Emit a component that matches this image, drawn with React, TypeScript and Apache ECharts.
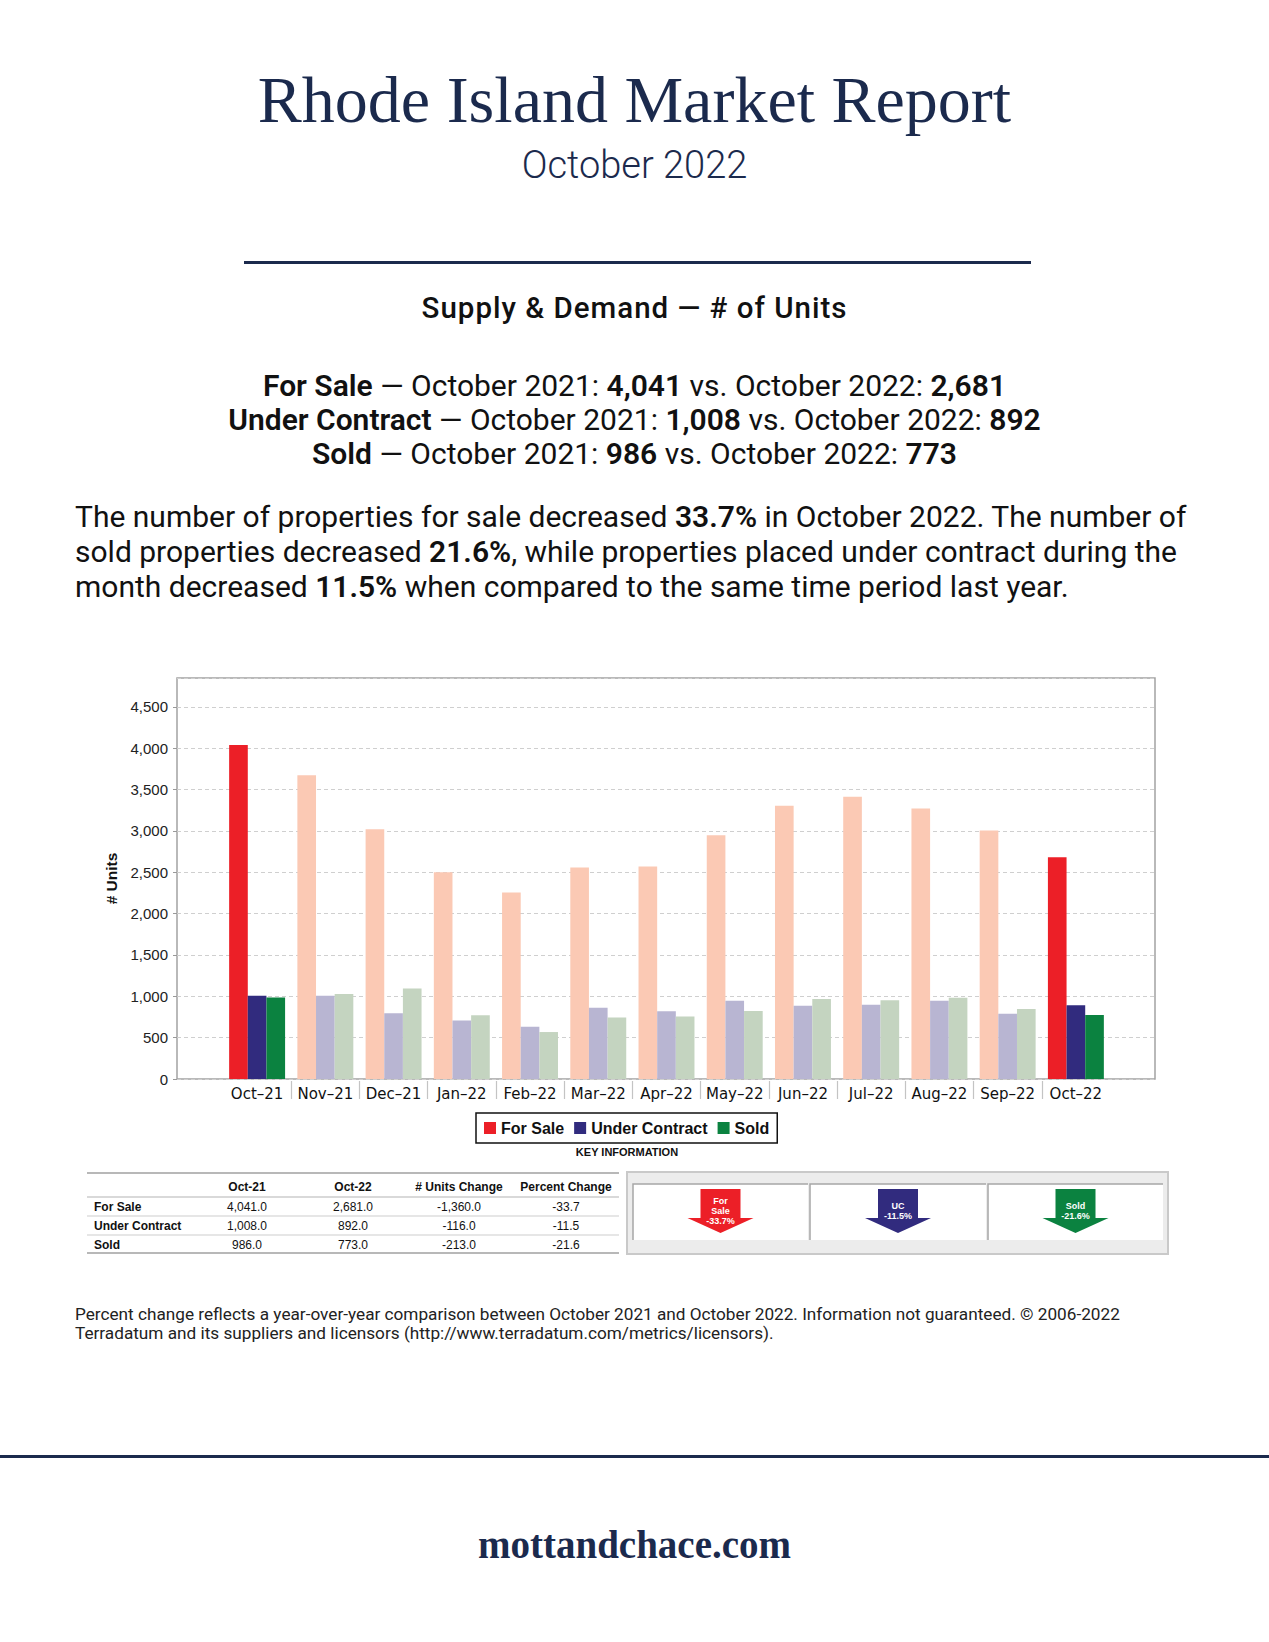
import React, { useEffect, useRef } from "react";
import * as echarts from "echarts";

const categories = ["Oct–21", "Nov–21", "Dec–21", "Jan–22", "Feb–22", "Mar–22", "Apr–22", "May–22", "Jun–22", "Jul–22", "Aug–22", "Sep–22", "Oct–22"];
const forSale = [4041, 3674, 3022, 2502, 2256, 2558, 2570, 2949, 3304, 3413, 3272, 3006, 2681];
const underContract = [1008, 1007, 794, 709, 633, 862, 818, 947, 886, 898, 947, 790, 892];
const sold = [986, 1027, 1096, 770, 568, 745, 757, 822, 967, 951, 983, 846, 773];

const seriesNames = ["For Sale", "Under Contract", "Sold"];
const seriesShort = ["For\nSale", "UC", "Sold"];
const brightColors = ["#ec1f27", "#312b7e", "#0b8240"];
const fadedColors = ["#fbc9b4", "#b8b5d2", "#c4d4c0"];
const tableHeaders = ["Oct-21", "Oct-22", "# Units Change", "Percent Change"];

const NAVY = "#1b2a4d";
const SANS = "Roboto, 'Liberation Sans', sans-serif";
const ARIAL = "'Liberation Sans', Arial, sans-serif";

const fmt = (n: number, d: number) =>
  n.toLocaleString("en-US", { minimumFractionDigits: d, maximumFractionDigits: d });

function buildGraphic() {
  const els: any[] = [];
  const allSeries = [forSale, underContract, sold];
  const last = categories.length - 1;

  els.push({
    type: "text",
    style: {
      text: "KEY INFORMATION", x: 627, y: 1152, fill: "#111",
      font: `bold 11px ${ARIAL}`, align: "center", verticalAlign: "middle",
      textAlign: "center", textVerticalAlign: "middle",
    },
  });

  const tLeft = 87, tRight = 619;
  const colX = [247, 353, 459, 566];
  const rowY = [1207, 1226, 1245];
  const lines = [
    { y: 1173, c: "#b8b8b8", w: 2 },
    { y: 1197, c: "#cccccc", w: 1.5 },
    { y: 1216, c: "#dedede", w: 1.5 },
    { y: 1235, c: "#dedede", w: 1.5 },
    { y: 1253, c: "#b8b8b8", w: 2 },
  ];
  lines.forEach((l) =>
    els.push({ type: "line", shape: { x1: tLeft, y1: l.y, x2: tRight, y2: l.y }, style: { stroke: l.c, lineWidth: l.w } })
  );
  tableHeaders.forEach((h, i) =>
    els.push({
      type: "text",
      style: { text: h, x: colX[i], y: 1187, fill: "#111", font: `bold 12px ${ARIAL}`, align: "center", verticalAlign: "middle", textAlign: "center", textVerticalAlign: "middle" },
    })
  );
  allSeries.forEach((arr, r) => {
    const a = arr[0], b = arr[last];
    const vals = [fmt(a, 1), fmt(b, 1), fmt(b - a, 1), fmt(((b - a) / a) * 100, 1)];
    els.push({
      type: "text",
      style: { text: seriesNames[r], x: 94, y: rowY[r], fill: "#111", font: `bold 12px ${ARIAL}`, align: "left", verticalAlign: "middle", textAlign: "left", textVerticalAlign: "middle" },
    });
    vals.forEach((v, i) =>
      els.push({
        type: "text",
        style: { text: v, x: colX[i], y: rowY[r], fill: "#111", font: `12px ${ARIAL}`, align: "center", verticalAlign: "middle", textAlign: "center", textVerticalAlign: "middle" },
      })
    );
  });

  els.push({ type: "rect", shape: { x: 627, y: 1172, width: 541, height: 82 }, style: { fill: "#ececec", stroke: "#c9c9c9", lineWidth: 2 } });
  const cells = [
    { x: 633, w: 175 },
    { x: 810, w: 176 },
    { x: 988, w: 175 },
  ];
  cells.forEach((c, i) => {
    els.push({ type: "rect", shape: { x: c.x, y: 1184, width: c.w, height: 56 }, style: { fill: "#ffffff" } });
    els.push({
      type: "polyline",
      shape: { points: [[c.x, 1240], [c.x, 1184], [c.x + c.w, 1184]] },
      style: { stroke: "#a6a6a6", lineWidth: 1.5, fill: null },
    });
    const cx = c.x + c.w / 2;
    els.push({
      type: "polygon",
      shape: {
        points: [
          [cx - 20, 1189], [cx + 20, 1189], [cx + 20, 1218], [cx + 33, 1218],
          [cx, 1233], [cx - 33, 1218], [cx - 20, 1218],
        ],
      },
      style: { fill: brightColors[i] },
    });
    const arr = allSeries[i];
    const pct = ((arr[last] - arr[0]) / arr[0]) * 100;
    els.push({
      type: "text",
      style: {
        text: `${seriesShort[i]}\n${fmt(pct, 1)}%`, x: cx, y: 1211, fill: "#ffffff",
        font: `bold 9px ${ARIAL}`, lineHeight: 10, align: "center", verticalAlign: "middle",
        textAlign: "center", textVerticalAlign: "middle",
      },
    });
  });
  return els;
}

function makeSeries(values: number[], idx: number) {
  const last = values.length - 1;
  return {
    name: seriesNames[idx],
    type: "bar",
    xAxisIndex: 1,
    yAxisIndex: 1,
    barGap: "0%",
    barCategoryGap: "18%",
    itemStyle: { color: brightColors[idx] },
    data: values.map((v, i) => ({
      value: v,
      itemStyle: { color: i === 0 || i === last ? brightColors[idx] : fadedColors[idx] },
    })),
  };
}

function Chart() {
  const ref = useRef<HTMLDivElement>(null);
  useEffect(() => {
    if (!ref.current) return;
    const chart = echarts.init(ref.current, undefined, { renderer: "svg" });
    const yMax = 4850;
    chart.setOption({
      animation: false,
      grid: [
        { left: 177, top: 678, width: 978, height: 401, show: true, borderColor: "#a3a3a3", borderWidth: 1.5, containLabel: false },
        { left: 223, top: 678, width: 887, height: 401, containLabel: false },
      ],
      xAxis: [
        { gridIndex: 0, type: "value", min: 0, max: 1, show: false },
        {
          gridIndex: 1, type: "category", data: categories, position: "bottom",
          axisLine: { show: false }, axisTick: { show: false },
          axisLabel: { fontFamily: "'DejaVu Sans', sans-serif", fontSize: 15, color: "#111", margin: 7, interval: 0 },
        },
        {
          gridIndex: 1, type: "category", data: [...categories, ""], boundaryGap: false, position: "bottom", offset: 2,
          axisLine: { show: false }, axisLabel: { show: false },
          axisTick: { show: true, length: 18, interval: (i: number) => i > 0 && i < categories.length, lineStyle: { color: "#c4c4c4", width: 1.2 } },
        },
      ],
      yAxis: [
        {
          gridIndex: 0, type: "value", min: 0, max: yMax, interval: 500,
          axisLine: { show: false },
          axisTick: { show: true, length: 4, lineStyle: { color: "#999" } },
          axisLabel: {
            fontFamily: ARIAL, fontSize: 15, color: "#222", margin: 9, showMaxLabel: false,
            formatter: (v: number) => v.toLocaleString("en-US"),
          },
          splitLine: { show: true, lineStyle: { color: "#cfcfcf", type: [4, 3], width: 1 } },
          name: "# Units", nameLocation: "middle", nameRotate: 90, nameGap: 55,
          nameTextStyle: { fontFamily: ARIAL, fontWeight: "bold", fontSize: 15.5, color: "#111" },
        },
        { gridIndex: 1, type: "value", min: 0, max: yMax, show: false },
      ],
      legend: {
        data: seriesNames, left: 476, top: 1113, orient: "horizontal",
        icon: "rect", itemWidth: 12, itemHeight: 12, itemGap: 10,
        textStyle: { fontFamily: ARIAL, fontWeight: "bold", fontSize: 16, color: "#111" },
        borderColor: "#111", borderWidth: 1.5, padding: [7, 8, 7, 8], backgroundColor: "#fff",
        selectedMode: false,
      },
      series: [makeSeries(forSale, 0), makeSeries(underContract, 1), makeSeries(sold, 2)],
      graphic: { elements: buildGraphic() },
    });
    return () => chart.dispose();
  }, []);
  return <div ref={ref} style={{ position: "absolute", left: 0, top: 0, width: 1269, height: 1642 }} />;
}

const abs = (top: number, extra: React.CSSProperties = {}): React.CSSProperties => ({
  position: "absolute", top, left: 0, width: 1269, textAlign: "center", whiteSpace: "nowrap", zIndex: 2, pointerEvents: "none", ...extra,
});

export default function App() {
  const b = { fontWeight: 600 };
  return (
    <div style={{ position: "absolute", left: 0, top: 0, width: 1269, height: 1642, background: "#fff", overflow: "hidden" }}>
      <Chart />
      <div style={abs(66.7, { fontFamily: "'Liberation Serif', serif", fontSize: 66, lineHeight: "66px", color: NAVY })}>
        Rhode Island Market Report
      </div>
      <div style={abs(146, { fontFamily: SANS, fontWeight: 300, fontSize: 38, lineHeight: "38px", color: NAVY })}>
        October 2022
      </div>
      <div style={{ position: "absolute", left: 244, top: 261, width: 787, height: 2.5, background: NAVY }} />
      <div style={abs(294.2, { fontFamily: SANS, fontWeight: 500, fontSize: 29.5, lineHeight: "29.5px", color: "#111", letterSpacing: 1 })}>
        Supply &amp; Demand — # of Units
      </div>
      <div style={abs(369.2, { fontFamily: SANS, fontSize: 30, lineHeight: "34px", color: "#111" })}>
        <span style={b}>For Sale</span> — October 2021: <span style={b}>4,041</span> vs. October 2022: <span style={b}>2,681</span>
        <br />
        <span style={b}>Under Contract</span> — October 2021: <span style={b}>1,008</span> vs. October 2022: <span style={b}>892</span>
        <br />
        <span style={b}>Sold</span> — October 2021: <span style={b}>986</span> vs. October 2022: <span style={b}>773</span>
      </div>
      <div style={abs(499.2, { left: 75, width: 1150, textAlign: "left", fontFamily: SANS, fontSize: 30, lineHeight: "35px", color: "#111" })}>
        The number of properties for sale decreased <span style={b}>33.7%</span> in October 2022. The number of
        <br />
        sold properties decreased <span style={b}>21.6%</span>, while properties placed under contract during the
        <br />
        month decreased <span style={b}>11.5%</span> when compared to the same time period last year.
      </div>
      <div style={abs(1304.5, { left: 75, width: 1150, textAlign: "left", fontFamily: SANS, fontSize: 17.2, lineHeight: "19.5px", color: "#222" })}>
        Percent change reflects a year-over-year comparison between October 2021 and October 2022. Information not guaranteed. © 2006-2022
        <br />
        Terradatum and its suppliers and licensors (http://www.terradatum.com/metrics/licensors).
      </div>
      <div style={{ position: "absolute", left: 0, top: 1455, width: 1269, height: 2.5, background: NAVY }} />
      <div style={abs(1525.3, { fontFamily: "'Liberation Serif', serif", fontWeight: 700, fontSize: 39, lineHeight: "39px", color: NAVY })}>
        mottandchace.com
      </div>
    </div>
  );
}
